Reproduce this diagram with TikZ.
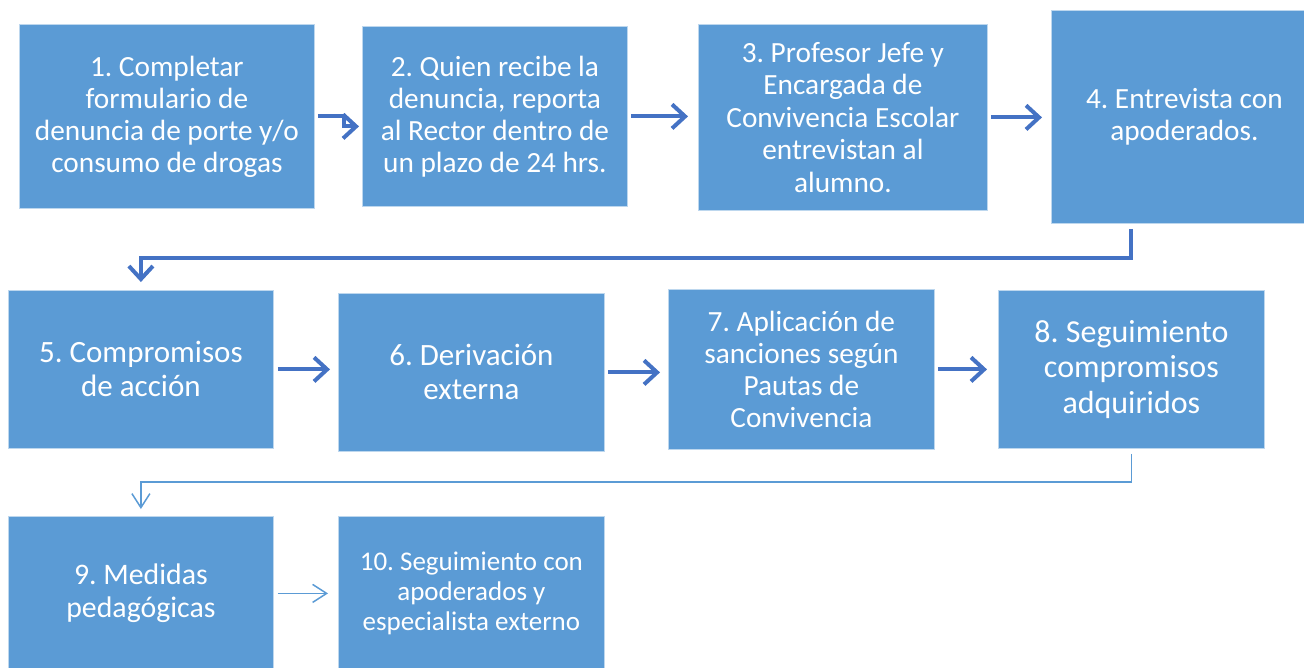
\documentclass[tikz,border=0pt]{standalone}
\usepackage{fontspec}
\setmainfont{Carlito}
\usetikzlibrary{arrows.meta}
\frenchspacing
\definecolor{azulcaja}{HTML}{5B9BD5}
\definecolor{bordecaja}{HTML}{BDD7EE}
\definecolor{azulflecha}{HTML}{4472C4}
\tikzset{
  caja/.style={rectangle, fill=azulcaja, draw=bordecaja, line width=0.8pt,
    text=white, align=center, inner sep=0pt, anchor=north west},
  letra/.style 2 args={font=\fontsize{#1}{#2}\selectfont},
  flecha/.style={draw=azulflecha, line width=4pt,
    -{Straight Barb[length=13pt,width=24pt,line width=4pt]}},
  flechafina/.style={draw=azulcaja, line width=1.5pt,
    -{Straight Barb[length=14pt,width=18pt,line width=1.5pt]}}
}
\begin{document}
\begin{tikzpicture}[x=1pt, y=-1pt]
  % Marco de la figura
  \useasboundingbox (0,0) rectangle (1304,667);
  % Primera fila
  \node[caja, letra={29.3}{32}, minimum width=295pt, minimum height=184pt] (n1) at (19,24)
    {1. Completar\\formulario de\\denuncia de porte y/o\\consumo de drogas};
  \node[caja, letra={29.3}{32}, minimum width=265pt, minimum height=180pt] (n2) at (362,26)
    {2. Quien recibe la\\denuncia, reporta\\al Rector dentro de\\un plazo de 24 hrs.};
  \node[caja, letra={29.3}{32.5}, minimum width=289pt, minimum height=186pt] (n3) at (698,24)
    {3. Profesor Jefe y\\Encargada de\\Convivencia Escolar\\entrevistan al\\alumno.};
  \node[caja, letra={29.3}{32}, minimum width=266pt, minimum height=213pt] (n4) at (1051,10)
    {4. Entrevista con\\apoderados.};
  % Segunda fila
  \node[caja, letra={31}{34}, minimum width=265pt, minimum height=158pt] (n5) at (8,290)
    {5. Compromisos\\de acción};
  \node[caja, letra={31}{34}, minimum width=266pt, minimum height=158pt] (n6) at (338,293)
    {6. Derivación\\externa};
  \node[caja, letra={29.3}{32}, minimum width=266pt, minimum height=160pt] (n7) at (668,289)
    {7. Aplicación de\\sanciones según\\Pautas de\\Convivencia};
  \node[caja, letra={32}{35.5}, minimum width=266pt, minimum height=158pt] (n8) at (998,290)
    {8. Seguimiento\\compromisos\\adquiridos};
  % Tercera fila
  \node[caja, letra={29.8}{33}, minimum width=265pt, minimum height=154pt] (n9) at (8,516)
    {9. Medidas\\pedagógicas};
  \node[caja, letra={27}{30}, minimum width=266pt, minimum height=154pt] (n10) at (338,516)
    {10. Seguimiento con\\apoderados y\\especialista externo};
  % Flechas de la primera fila
  \draw[flecha, shorten <=3pt, shorten >=3pt] (n1.east) -- ++(29,0) |- ([yshift=-10pt]n2.west);
  \draw[flecha, shorten <=3pt, shorten >=10pt] (n2.east) -- (n2.east -| n3.west);
  \draw[flecha, shorten <=3pt, shorten >=9pt] (n3.east) -- (n3.east -| n4.west);
  % Paso a la segunda fila
  \draw[flecha, shorten >=8pt] ([yshift=-5pt]n4.south -| n8.north) -- ++(0,29) -| (n5.north);
  % Flechas de la segunda fila
  \draw[flecha, shorten <=4pt, shorten >=8pt] (n5.east) -- (n5.east -| n6.west);
  \draw[flecha, shorten <=3pt, shorten >=8pt] (n6.east) -- (n6.east -| n7.west);
  \draw[flecha, shorten <=3pt, shorten >=11pt] (n7.east) -- (n7.east -| n8.west);
  % Paso a la tercera fila
  \draw[flechafina, shorten >=7pt] ([yshift=-5pt]n8.south) -- ++(0,28) -| (n9.north);
  \draw[flechafina, shorten <=4pt, shorten >=10pt] (n9.east) -- (n9.east -| n10.west);
\end{tikzpicture}
\end{document}
